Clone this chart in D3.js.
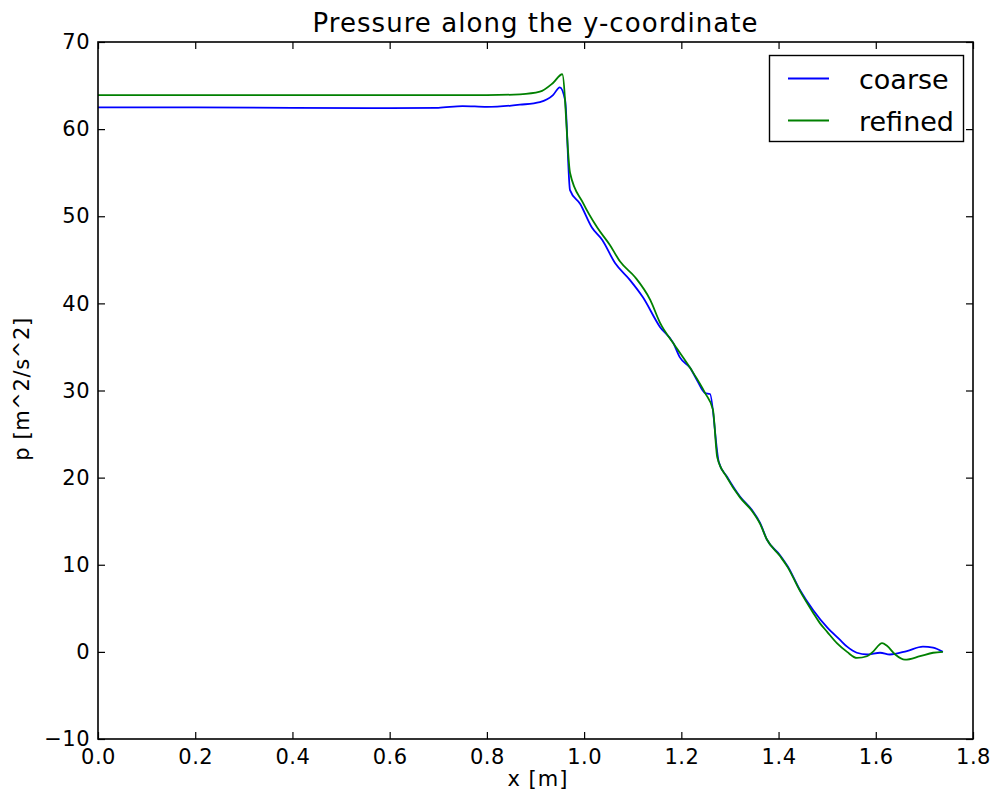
<!DOCTYPE html>
<html>
<head>
<meta charset="utf-8">
<script src="https://cdn.jsdelivr.net/npm/d3@7"></script>
<style>
  html, body { margin: 0; padding: 0; background: #fff; }
  svg { display: block; }
  text { font-family: "DejaVu Sans", sans-serif; fill: #000; }
</style>
</head>
<body>
<svg id="chart" width="998" height="796"></svg>
<script>
// ---- data ----
const coarseX = [0.0, 0.2, 0.4, 0.6, 0.7, 0.75, 0.8, 0.85, 0.868, 0.909, 0.936, 0.950, 0.961, 0.971, 0.992, 1.016, 1.037, 1.064, 1.094, 1.121, 1.156, 1.183, 1.197, 1.218, 1.232, 1.249, 1.259, 1.277, 1.294, 1.321, 1.345, 1.362, 1.376, 1.403, 1.419, 1.444, 1.471, 1.500, 1.526, 1.541, 1.561, 1.582, 1.609, 1.629, 1.664, 1.697, 1.718, 1.738];
const coarseP = [62.5, 62.5, 62.45, 62.4, 62.45, 62.65, 62.55, 62.7, 62.8, 63.1, 63.9, 64.8, 63.3, 53.0, 51.4, 48.7, 47.3, 44.6, 42.7, 40.7, 37.3, 35.5, 33.8, 32.6, 31.2, 29.7, 29.6, 21.8, 20.1, 17.8, 16.3, 14.8, 12.9, 11.1, 9.8, 7.1, 4.8, 2.8, 1.4, 0.6, -0.1, -0.3, -0.1, -0.3, 0.1, 0.6, 0.5, 0.0];

const refinedX = [0.0, 0.2, 0.4, 0.6, 0.8, 0.868, 0.909, 0.936, 0.955, 0.971, 0.998, 1.027, 1.053, 1.074, 1.105, 1.136, 1.156, 1.185, 1.218, 1.249, 1.265, 1.274, 1.294, 1.321, 1.345, 1.362, 1.376, 1.403, 1.419, 1.444, 1.471, 1.485, 1.500, 1.520, 1.541, 1.561, 1.582, 1.594, 1.613, 1.623, 1.640, 1.660, 1.691, 1.718, 1.738];
const refinedP = [63.9, 63.9, 63.9, 63.9, 63.9, 64.0, 64.3, 65.3, 66.3, 55.0, 51.5, 48.7, 46.7, 44.8, 43.0, 40.4, 37.8, 35.3, 32.6, 29.7, 27.8, 22.3, 20.0, 17.7, 16.2, 14.7, 12.9, 11.0, 9.7, 7.0, 4.5, 3.3, 2.3, 1.0, 0.0, -0.7, -0.5, 0.0, 1.0, 0.7, -0.3, -0.9, -0.5, -0.1, 0.0];

const xTicks = [0.0, 0.2, 0.4, 0.6, 0.8, 1.0, 1.2, 1.4, 1.6, 1.8];
const yTicks = [-10, 0, 10, 20, 30, 40, 50, 60, 70];
const seriesNames = ["coarse", "refined"];
const seriesColors = ["#0000ff", "#008000"];

// ---- layout ----
const svg = d3.select("#chart");
const mLeft = 98, mTop = 42, pw = 875, ph = 697;
const x = d3.scaleLinear().domain([0, 1.8]).range([mLeft, mLeft + pw]);
const y = d3.scaleLinear().domain([-10, 70]).range([mTop + ph, mTop]);

const fmtX = d => d.toFixed(1);
const fmtY = d => (d < 0 ? "\u2212" + Math.abs(d) : String(d));

const g = svg.append("g");

// lines
const series = [
  { name: seriesNames[0], xs: coarseX, ys: coarseP, color: seriesColors[0] },
  { name: seriesNames[1], xs: refinedX, ys: refinedP, color: seriesColors[1] }
];
const line = d3.line().x(d => x(d[0])).y(d => y(d[1])).curve(d3.curveMonotoneX);
series.forEach(s => {
  g.append("path")
    .datum(s.xs.map((v, i) => [v, s.ys[i]]))
    .attr("d", line)
    .attr("fill", "none")
    .attr("stroke", s.color)
    .attr("stroke-width", 1.8)
    .attr("stroke-linejoin", "round");
});

// axes (ticks inward, all four sides)
const tickSize = 7;
const fs = 21;
const axB = d3.axisBottom(x).tickValues(xTicks).tickFormat(fmtX).tickSizeInner(-tickSize).tickSizeOuter(0).tickPadding(10);
const axT = d3.axisTop(x).tickValues(xTicks).tickFormat("").tickSizeInner(-tickSize).tickSizeOuter(0);
const axL = d3.axisLeft(y).tickValues(yTicks).tickFormat(fmtY).tickSizeInner(-tickSize).tickSizeOuter(0).tickPadding(8);
const axR = d3.axisRight(y).tickValues(yTicks).tickFormat("").tickSizeInner(-tickSize).tickSizeOuter(0);

function style(sel) {
  sel.select(".domain").remove();
  sel.selectAll("line").attr("stroke", "#000").attr("stroke-width", 1.2);
  sel.selectAll("text").style("font-family", "'DejaVu Sans', sans-serif").style("font-size", fs + "px")
    .style("letter-spacing", "0.5px").attr("fill", "#000");
}
svg.append("g").attr("transform", `translate(0,${mTop + ph})`).call(axB).call(style);
svg.append("g").attr("transform", `translate(0,${mTop})`).call(axT).call(style);
svg.append("g").attr("transform", `translate(${mLeft},0)`).call(axL).call(style);
svg.append("g").attr("transform", `translate(${mLeft + pw},0)`).call(axR).call(style);

// frame
svg.append("rect").attr("x", mLeft).attr("y", mTop).attr("width", pw).attr("height", ph)
  .attr("fill", "none").attr("stroke", "#000").attr("stroke-width", 1.6);

// title & labels
svg.append("text").attr("x", mLeft + pw / 2 - 0.5).attr("y", 32).attr("text-anchor", "middle")
  .style("font-size", "26px").attr("textLength", 445).attr("lengthAdjust", "spacing")
  .text("Pressure along the y-coordinate");
svg.append("text").attr("x", 538).attr("y", 786).attr("text-anchor", "middle")
  .style("font-size", "21px").style("letter-spacing", "1px").text("x [m]");
svg.append("text").attr("transform", `translate(29,389) rotate(-90)`).attr("text-anchor", "middle")
  .style("font-size", "21px").style("letter-spacing", "0.6px").text("p [m^2/s^2]");

// legend
const lg = svg.append("g");
lg.append("rect").attr("x", 769.5).attr("y", 55.5).attr("width", 194).attr("height", 86)
  .attr("fill", "#fff").attr("stroke", "#000").attr("stroke-width", 1.4);
series.forEach((s, i) => {
  const yy = 78.5 + i * 42;
  lg.append("line").attr("x1", 788).attr("x2", 829).attr("y1", yy).attr("y2", yy)
    .attr("stroke", s.color).attr("stroke-width", 1.8);
  lg.append("text").attr("x", 859).attr("y", yy + 10).style("font-size", "27px").text(s.name);
});
</script>
</body>
</html>
